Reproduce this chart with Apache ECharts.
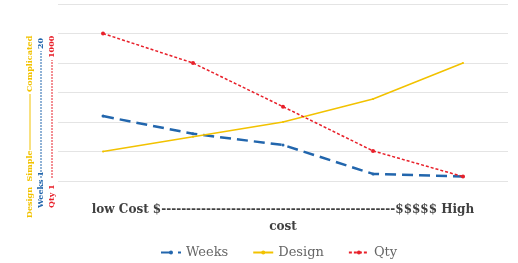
<!DOCTYPE html>
<html>
<head>
<meta charset="utf-8">
<script src="https://cdn.jsdelivr.net/npm/echarts@6/dist/echarts.min.js"></script>
<style>
  html, body { margin: 0; padding: 0; background: #fff; }
  #chart { width: 518px; height: 263px; }
</style>
</head>
<body>
<div id="chart"></div>
<script>
  // data (grid units 0..6)
  var categories = ['1', '2', '3', '4', '5']
  var weeks = [2.2, 1.6, 1.22, 0.24, 0.15]
  var design = [1.0, 1.5, 2.0, 2.78, 4.0]
  var qty = [5.0, 4.0, 2.52, 1.02, 0.15]
  var xName = 'low Cost $' + new Array(48).join('-') + '$$$$$ High\ncost'

  var blue = '#2266ad'
  var yellow = '#f2c200'
  var red = '#e8202a'
  var labelFont = 'bold 8px "DejaVu Serif"'

  // a rotated label made of text - line - text, reading bottom to top
  function sideLabel (x, yBottom, first, lineLen, last, color, dash) {
    return {
      type: 'group',
      x: x,
      y: yBottom,
      rotation: Math.PI / 2,
      children: [
        {
          type: 'text',
          x: 0, y: 0,
          style: { text: first.text, font: labelFont, fill: color, verticalAlign: 'middle', align: 'left' }
        },
        {
          type: 'line',
          shape: { x1: first.w, y1: 0, x2: first.w + lineLen, y2: 0 },
          style: { stroke: color, lineWidth: 1, lineDash: dash }
        },
        {
          type: 'text',
          x: first.w + lineLen + 2, y: 0,
          style: { text: last, font: labelFont, fill: color, verticalAlign: 'middle', align: 'left' }
        }
      ]
    }
  }

  var myChart = echarts.init(document.getElementById('chart'))
  myChart.setOption({
    animation: false,
    grid: { left: 58, right: 10, top: 4, bottom: 82 },
    legend: {
      left: 155,
      top: 241,
      itemWidth: 20,
      itemHeight: 5,
      itemGap: 24,
      textStyle: { color: '#666666', fontSize: 13, fontFamily: 'DejaVu Serif' },
      data: ['Weeks', 'Design', 'Qty']
    },
    xAxis: {
      type: 'category',
      data: categories,
      axisLine: { show: false },
      axisTick: { show: false },
      axisLabel: { show: false },
      name: xName,
      nameLocation: 'middle',
      nameGap: 20,
      nameTextStyle: {
        color: '#404040',
        fontSize: 12,
        fontWeight: 'bold',
        fontFamily: 'DejaVu Serif',
        lineHeight: 17,
        verticalAlign: 'top'
      }
    },
    yAxis: {
      type: 'value',
      min: 0,
      max: 6,
      interval: 1,
      axisLabel: { show: false },
      axisLine: { show: false },
      axisTick: { show: false },
      splitLine: { lineStyle: { color: '#e4e4e4' } }
    },
    graphic: [
      sideLabel(30, 218, { text: 'Design  Simple', w: 68 }, 56, 'Complicated', yellow, null),
      sideLabel(41, 208, { text: 'Weeks 1', w: 30 }, 127, '20', blue, [2, 1]),
      sideLabel(52, 208, { text: 'Qty 1', w: 30 }, 118, '1000', red, [2, 1])
    ],
    series: [
      {
        name: 'Weeks',
        type: 'line',
        data: weeks,
        symbol: 'circle',
        symbolSize: 3,
        lineStyle: { color: blue, width: 2.5, type: [11, 6] },
        itemStyle: { color: blue }
      },
      {
        name: 'Design',
        type: 'line',
        data: design,
        symbol: 'circle',
        symbolSize: 2,
        lineStyle: { color: yellow, width: 1.5 },
        itemStyle: { color: yellow }
      },
      {
        name: 'Qty',
        type: 'line',
        data: qty,
        symbol: 'circle',
        symbolSize: 4,
        lineStyle: { color: red, width: 1.5, type: [3, 2] },
        itemStyle: { color: red }
      }
    ]
  })
</script>
</body>
</html>
